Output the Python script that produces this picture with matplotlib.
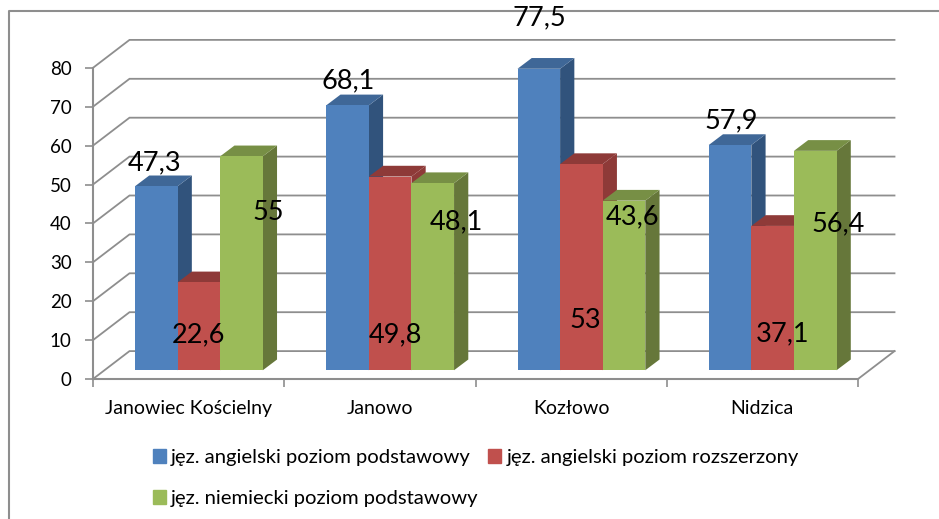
import matplotlib
matplotlib.use("Agg")
import matplotlib.pyplot as plt
from matplotlib.lines import Line2D
from matplotlib.patches import Polygon, Patch

plt.rcParams['font.family'] = ['Lato', 'DejaVu Sans']

W, H = 939, 519

categories = ["Janowiec Kościelny", "Janowo", "Kozłowo", "Nidzica"]
series_names = ["jęz. angielski poziom podstawowy",
                "jęz. angielski poziom rozszerzony",
                "jęz. niemiecki poziom podstawowy"]
angielski_podst = [47.3, 68.1, 77.5, 57.9]
angielski_rozsz = [22.6, 49.8, 53, 37.1]
niemiecki_podst = [55, 48.1, 43.6, 56.4]
y_ticks = [0, 10, 20, 30, 40, 50, 60, 70, 80]

# front, side, top
colors = [("#4F81BD", "#31537C", "#3F6797"),
          ("#C0504D", "#8E3A38", "#8E3A38"),
          ("#9BBB59", "#66773A", "#778F45")]
grid_col = "#8E8E8E"

fig = plt.figure(figsize=(W / 100, H / 100), dpi=100)
# axes box in pixels: x 93-858, y 379 (zero) - 67.8 (80)
ax = fig.add_axes([93 / W, 1 - 379 / H, 765 / W, 311.2 / H])
ax.set_xlim(0, 4)
ax.set_ylim(0, 80)

# depth of the fake 3d floor, in data units
dx = 36.5 / 191.25
dy = 27.9 / 3.89
bar_w = 42.6 / 191.25
bar_dx = dx * 0.39
bar_dy = dy * 0.385
base_x = 42 / 191.25
base_y = 2.25

# walls and floor
for v in y_ticks:
    ax.plot([0, dx, 4 + dx], [v, v + dy, v + dy], color=grid_col, lw=1.3,
            clip_on=False, zorder=1, solid_joinstyle='miter')
ax.plot([4, 4 + dx], [0, dy], color=grid_col, lw=1.3, clip_on=False, zorder=1)

# bars, left to right so the next front covers the previous side
all_values = [angielski_podst, angielski_rozsz, niemiecki_podst]
z = 3
for c in range(len(categories)):
    for s, values in enumerate(all_values):
        x0 = c + base_x + s * bar_w
        x1 = x0 + bar_w
        top = base_y + values[c]
        front, side, roof = colors[s]
        ax.add_patch(Polygon([(x1, base_y), (x1 + bar_dx, base_y + bar_dy),
                              (x1 + bar_dx, top + bar_dy), (x1, top)],
                             facecolor=side, edgecolor='none', zorder=z, clip_on=False))
        ax.add_patch(Polygon([(x0, top), (x1, top), (x1 + bar_dx, top + bar_dy),
                              (x0 + bar_dx, top + bar_dy)],
                             facecolor=roof, edgecolor='none', zorder=z + 1, clip_on=False))
        ax.bar(x0, values[c], width=bar_w, bottom=base_y, align='edge', color=front,
               zorder=z + 2, clip_on=False)
        z += 3

# data labels sit where they were dragged, positions in pixels
label_px = [[(155, 163), (348, 81), (539, 18), (731, 121)],
            [(198, 335), (395, 335), (585, 321), (783, 334)],
            [(268, 213), (456, 222), (632, 217), (838, 224)]]
for s, values in enumerate(all_values):
    for c, v in enumerate(values):
        fig.text(label_px[s][c][0] / W, 1 - label_px[s][c][1] / H,
                 str(v).replace('.', ','), fontsize=19.5, color='black',
                 ha='center', va='center', zorder=200)

# axes
for side in ['top', 'right']:
    ax.spines[side].set_visible(False)
for side in ['left', 'bottom']:
    ax.spines[side].set_color(grid_col)
    ax.spines[side].set_linewidth(1.5)
    ax.spines[side].set_zorder(2)
ax.patch.set_visible(False)
ax.set_yticks(y_ticks)
ax.tick_params(axis='y', length=5.5, width=1.2, color=grid_col, pad=10, labelsize=13.5)
ax.set_xticks(range(5))
ax.set_xticklabels([])
ax.tick_params(axis='x', which='major', length=5.5, width=1.2, color=grid_col)
ax.set_xticks([0.5, 1.5, 2.5, 3.5], minor=True)
ax.set_xticklabels(categories, minor=True)
ax.tick_params(axis='x', which='minor', length=0, pad=15, labelsize=14)

# legend, two columns
handles = [Patch(color=colors[0][0]), Patch(color=colors[2][0]), Patch(color=colors[1][0])]
labels = [series_names[0], series_names[2], series_names[1]]
fig.legend(handles, labels, ncol=2, frameon=False, fontsize=14.6,
           loc='upper left', bbox_to_anchor=(153 / W, 1 - 449 / H),
           borderpad=0, borderaxespad=0, handlelength=0.65, handleheight=0.65,
           handletextpad=0.25, columnspacing=0.45, labelspacing=1.2)

# chart frame, cut off by the image on the right and bottom
fig.add_artist(Line2D([9 / W, 9 / W, 1], [0, 1 - 10.7 / H, 1 - 10.7 / H],
                      color=grid_col, lw=1.5))

fig.savefig("out.png", dpi=100, facecolor='white')
